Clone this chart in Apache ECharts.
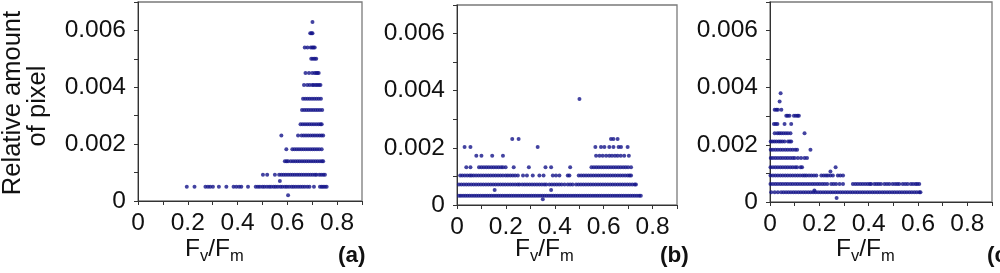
<!DOCTYPE html>
<html><head><meta charset="utf-8">
<script src="https://cdn.jsdelivr.net/npm/echarts@6/dist/echarts.min.js"></script>
<style>html,body{margin:0;padding:0;background:#fff}#c{width:1000px;height:273px}</style>
</head><body><div id="c"></div>
<script>
// ---------- DATA ----------
const panelLetters = ['(a)', '(b)', '(c)'];
const yAxisName = ['Relative amount', 'of pixel'];

// Panel (a): row values (relative amount) and Fv/Fm positions of the points in each row
const aRowY = [0.0002, 0.0005, 0.0007, 0.00092, 0.0014, 0.00182, 0.0023, 0.0027, 0.0032, 0.0036, 0.00408, 0.0045, 0.005, 0.0054, 0.0059, 0.0063];
const aRowX = [
  [0.603],
  [0.196,0.227,0.271,0.281,0.29,0.301,0.325,0.355,0.384,0.395,0.406,0.415,0.442,0.473,0.482,0.49,0.5,0.508,0.518,0.527,0.535,0.545,0.553,0.562,0.572,0.58,0.59,0.598,0.607,0.617,0.625,0.634,0.643,0.652,0.661,0.67,0.68,0.689,0.707,0.731,0.738,0.744,0.751,0.758],
  [0.57],
  [0.502,0.519,0.55,0.567,0.576,0.585,0.594,0.603,0.612,0.621,0.63,0.639,0.648,0.657,0.666,0.675,0.684,0.693,0.702,0.711,0.717,0.728,0.736,0.744,0.751],
  [0.59,0.597,0.603,0.614,0.623,0.632,0.641,0.65,0.659,0.668,0.677,0.686,0.695,0.704,0.713,0.722,0.731,0.739,0.744],
  [0.596,0.62,0.629,0.638,0.647,0.656,0.665,0.674,0.683,0.692,0.701,0.71,0.719,0.728,0.738],
  [0.576,0.643,0.657,0.666,0.675,0.684,0.693,0.702,0.711,0.72,0.729,0.737,0.744],
  [0.653,0.662,0.671,0.68,0.689,0.698,0.707,0.716,0.725,0.733,0.738],
  [0.659,0.668,0.677,0.686,0.695,0.704,0.713,0.722,0.731,0.74],
  [0.663,0.672,0.681,0.69,0.699,0.708,0.717,0.726,0.735],
  [0.667,0.68,0.69,0.7,0.706,0.714,0.72,0.727,0.733],
  [0.673,0.687,0.7,0.71,0.716,0.721,0.726],
  [0.696,0.703,0.71,0.716],
  [0.67,0.681,0.694,0.7,0.705,0.71],
  [0.692,0.697,0.701],
  [0.701]
];

// Panel (b)
const bRowY = [0.0002, 0.00032, 0.000525, 0.00072, 0.00103, 0.00132, 0.00172, 0.00203, 0.00231, 0.00371];
const bRowX = [
  [0.351],
  [0.008,0.016,0.025,0.034,0.043,0.052,0.061,0.07,0.079,0.088,0.097,0.106,0.115,0.124,0.133,0.142,0.151,0.16,0.169,0.178,0.187,0.196,0.205,0.214,0.223,0.232,0.241,0.25,0.259,0.268,0.277,0.286,0.295,0.304,0.313,0.322,0.331,0.34,0.349,0.358,0.367,0.376,0.385,0.394,0.403,0.412,0.421,0.43,0.439,0.448,0.457,0.466,0.475,0.484,0.493,0.502,0.511,0.52,0.529,0.538,0.547,0.556,0.565,0.574,0.583,0.592,0.601,0.61,0.619,0.628,0.637,0.646,0.655,0.664,0.673,0.682,0.691,0.7,0.709,0.718,0.727,0.736,0.745,0.752],
  [0.154,0.385],
  [0.008,0.018,0.028,0.038,0.048,0.058,0.068,0.078,0.088,0.098,0.108,0.118,0.128,0.138,0.148,0.158,0.168,0.178,0.188,0.198,0.208,0.218,0.228,0.238,0.248,0.256,0.267,0.277,0.287,0.297,0.307,0.317,0.327,0.337,0.347,0.357,0.365,0.378,0.388,0.398,0.408,0.418,0.428,0.44,0.453,0.463,0.473,0.487,0.497,0.507,0.517,0.527,0.537,0.547,0.557,0.567,0.577,0.587,0.597,0.607,0.617,0.627,0.637,0.647,0.657,0.667,0.677,0.687,0.697,0.707,0.717,0.727,0.732],
  [0.013,0.022,0.032,0.042,0.052,0.059,0.068,0.078,0.088,0.098,0.108,0.118,0.128,0.138,0.148,0.158,0.168,0.178,0.188,0.199,0.208,0.218,0.228,0.238,0.249,0.27,0.286,0.31,0.337,0.354,0.392,0.405,0.419,0.453,0.46,0.498,0.508,0.518,0.528,0.538,0.548,0.558,0.568,0.578,0.588,0.598,0.608,0.618,0.628,0.638,0.648,0.658,0.668,0.678,0.688,0.698,0.706,0.712],
  [0.038,0.055,0.09,0.1,0.11,0.12,0.13,0.14,0.15,0.16,0.17,0.18,0.188,0.199,0.232,0.294,0.362,0.385,0.463,0.55,0.56,0.57,0.58,0.59,0.6,0.61,0.62,0.63,0.64,0.65,0.66,0.67,0.68,0.69,0.7,0.712],
  [0.079,0.1,0.144,0.188,0.569,0.583,0.596,0.61,0.623,0.634,0.646,0.657,0.67,0.684,0.703],
  [0.031,0.055,0.33,0.566,0.589,0.603,0.623,0.64,0.661,0.671,0.698],
  [0.226,0.252,0.63,0.64,0.657],
  [0.501]
];

// Panel (c)
const cRowY = [0.00014, 0.00034, 0.0004, 0.00063, 0.00093, 0.00107, 0.00122, 0.00154, 0.00183, 0.00212, 0.00241, 0.00273, 0.00302, 0.00323, 0.00352, 0.00381];
const cRowX = [
  [0.27],
  [0.005,0.019,0.032,0.045,0.055,0.065,0.075,0.085,0.095,0.105,0.115,0.125,0.135,0.145,0.155,0.165,0.175,0.185,0.195,0.205,0.215,0.225,0.235,0.245,0.255,0.265,0.275,0.285,0.295,0.305,0.315,0.325,0.335,0.345,0.355,0.365,0.375,0.385,0.395,0.405,0.415,0.425,0.435,0.445,0.455,0.465,0.475,0.485,0.495,0.505,0.515,0.525,0.535,0.545,0.555,0.565,0.575,0.585,0.595,0.605,0.61],
  [0.18],
  [0.002,0.012,0.022,0.032,0.042,0.052,0.062,0.072,0.082,0.092,0.102,0.112,0.122,0.132,0.142,0.152,0.162,0.172,0.182,0.192,0.202,0.212,0.222,0.232,0.248,0.258,0.268,0.282,0.296,0.336,0.346,0.356,0.366,0.376,0.386,0.396,0.405,0.41,0.423,0.432,0.441,0.45,0.464,0.474,0.484,0.497,0.507,0.516,0.524,0.538,0.548,0.558,0.571,0.58,0.59,0.597,0.605],
  [0.002,0.012,0.022,0.032,0.042,0.052,0.062,0.072,0.082,0.092,0.102,0.112,0.122,0.132,0.14,0.148,0.158,0.168,0.178,0.188,0.208,0.218,0.227,0.235,0.245,0.255,0.275,0.285,0.296],
  [0.245],
  [0.002,0.012,0.022,0.032,0.042,0.052,0.062,0.072,0.082,0.092,0.102,0.11,0.124,0.13,0.266],
  [0.003,0.012,0.022,0.032,0.042,0.052,0.062,0.072,0.082,0.092,0.1,0.113,0.126,0.14,0.15],
  [0.003,0.012,0.022,0.032,0.042,0.052,0.062,0.072,0.082,0.092,0.102,0.11,0.164],
  [0.003,0.01,0.018,0.026,0.035,0.042,0.05,0.059,0.073,0.08,0.086],
  [0.019,0.03,0.038,0.046,0.055,0.064,0.073,0.083,0.14],
  [0.016,0.023,0.03,0.059,0.086],
  [0.066,0.072,0.079,0.097,0.105,0.112,0.117],
  [0.019,0.026,0.032,0.046],
  [0.039],
  [0.043]
];

// ---------- CHART ----------
const FONT = '"Liberation Sans", Arial, sans-serif';
const AXIS_COLOR = '#333';
const DOT = '#14148a';
const TICK_FONT = 24.5;

function flatten(rowY, rowX) {
  const out = [];
  rowY.forEach((y, i) => rowX[i].forEach(x => out.push([x, y])));
  return out;
}
const panels = [flatten(aRowY, aRowX), flatten(bRowY, bRowX), flatten(cRowY, cRowX)];

const grids = [
  { left: 138, top: 2, width: 224, height: 199 },
  { left: 457, top: 5, width: 220, height: 200 },
  { left: 770, top: 2, width: 222, height: 200 }
].map(g => Object.assign({ show: true, borderColor: '#7a7a7a', borderWidth: 1.3, backgroundColor: 'transparent' }, g));

const xAxes = grids.map((g, i) => ({
  type: 'value', gridIndex: i, min: 0, max: 0.9, interval: 0.1,
  axisLine: { show: true, onZero: false, lineStyle: { color: AXIS_COLOR, width: 1 } },
  axisTick: { show: true, length: 4, lineStyle: { color: AXIS_COLOR } },
  splitLine: { show: false },
  axisLabel: {
    margin: 10, fontSize: TICK_FONT, fontFamily: FONT, color: '#111',
    showMinLabel: true, showMaxLabel: true,
    formatter: v => { const k = Math.round(v * 10); if (k % 2 || k > 8) return ''; return k === 0 ? '0' : (k / 10).toFixed(1); }
  }
}));
const yAxes = grids.map((g, i) => ({
  type: 'value', gridIndex: i, min: 0, max: 0.007, interval: 0.001,
  axisLine: { show: true, onZero: false, lineStyle: { color: AXIS_COLOR, width: 1 } },
  axisTick: { show: true, length: 4, lineStyle: { color: AXIS_COLOR } },
  splitLine: { show: false },
  axisLabel: {
    margin: 12, fontSize: TICK_FONT, fontFamily: FONT, color: '#111',
    formatter: v => { const k = Math.round(v * 1000); if (k % 2) return ''; return k === 0 ? '0' : (k / 1000).toFixed(3); }
  }
}));

const series = panels.map((d, i) => ({
  type: 'scatter', xAxisIndex: i, yAxisIndex: i, data: d,
  symbol: 'circle', symbolSize: 4, itemStyle: { color: DOT }, silent: true, animation: false
}));

// Fv/Fm axis titles and panel letters
function fvfm(x0) {
  const big = { fontSize: 24.5, fontFamily: FONT, fill: '#111', align: 'left', verticalAlign: 'middle' };
  const small = { fontSize: 16.5, fontFamily: FONT, fill: '#111', align: 'left', verticalAlign: 'middle' };
  return [
    { type: 'text', x: x0, y: 249, style: Object.assign({ text: 'F' }, big) },
    { type: 'text', x: x0 + 15, y: 256, style: Object.assign({ text: 'v' }, small) },
    { type: 'text', x: x0 + 23.2, y: 249, style: Object.assign({ text: '/F' }, big) },
    { type: 'text', x: x0 + 45, y: 256, style: Object.assign({ text: 'm' }, small) }
  ];
}
const letterX = [338, 660, 987];
const titleX = [185, 515, 836];
let graphics = [];
titleX.forEach(x => { graphics = graphics.concat(fvfm(x)); });
panelLetters.forEach((t, i) => graphics.push({
  type: 'text', x: letterX[i], y: 256,
  style: { text: t, fontSize: 22.5, fontWeight: 'bold', fontFamily: FONT, fill: '#111', align: 'left', verticalAlign: 'middle' }
}));
graphics.push({ type: 'text', x: 13, y: 103, rotation: Math.PI / 2,
  style: { text: yAxisName[0], fontSize: 25.5, fontFamily: FONT, fill: '#111', align: 'center', verticalAlign: 'middle' } });
graphics.push({ type: 'text', x: 38, y: 106, rotation: Math.PI / 2,
  style: { text: yAxisName[1], fontSize: 25.5, fontFamily: FONT, fill: '#111', align: 'center', verticalAlign: 'middle' } });

const chart = echarts.init(document.getElementById('c'), null, { renderer: 'canvas' });
chart.setOption({
  animation: false,
  backgroundColor: '#fff',
  grid: grids, xAxis: xAxes, yAxis: yAxes, series: series, graphic: graphics
});
</script></body></html>
